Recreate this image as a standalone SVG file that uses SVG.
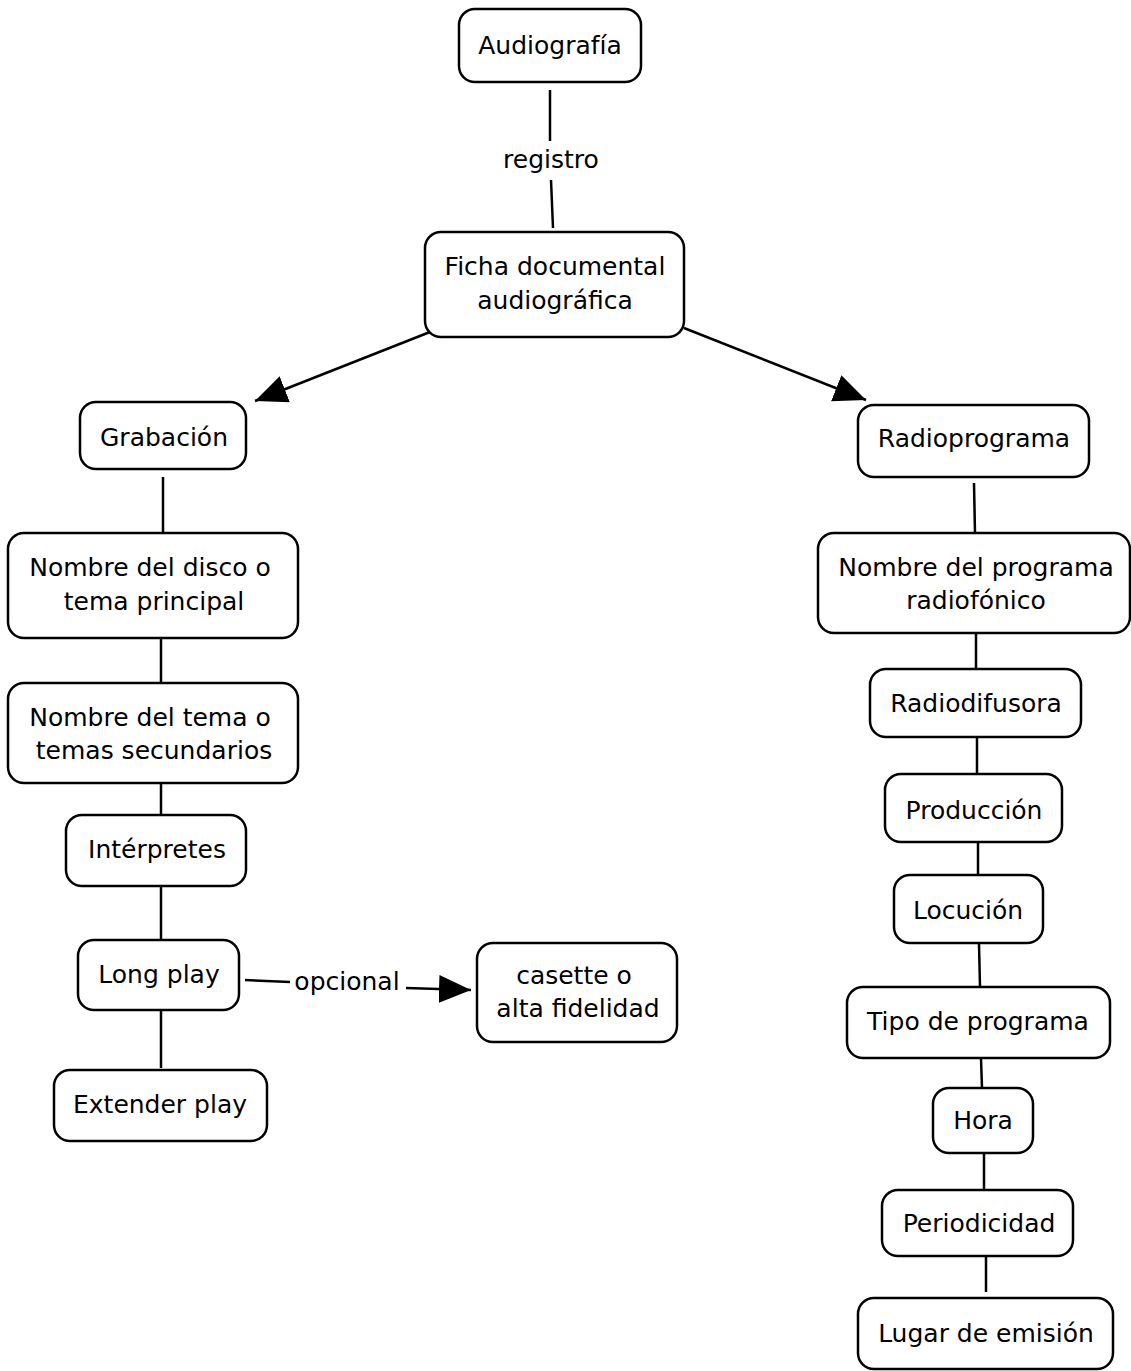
<svg xmlns="http://www.w3.org/2000/svg" width="1131" height="1371" viewBox="0 0 1131 1371">
<style>
.n rect{fill:#fff;stroke:#000;stroke-width:2.5}
text{font-family:"DejaVu Sans",Verdana,sans-serif;font-size:25px;fill:#000;text-anchor:middle}
#connectors line{stroke:#000;stroke-width:2.5}
</style>
<defs>
<marker id="ah" markerUnits="userSpaceOnUse" markerWidth="34" markerHeight="30" refX="32" refY="14" orient="auto">
<path d="M0,0 L32,14 L0,28 Z" fill="#000"/>
</marker>
</defs>
<rect width="1131" height="1371" fill="#fff"/>
<g id="connectors">
<line x1="550" y1="90" x2="550" y2="141"/>
<text x="551" y="168">registro</text>
<line x1="551" y1="180" x2="553" y2="228"/>
<line x1="430" y1="332" x2="255" y2="401" marker-end="url(#ah)"/>
<line x1="684" y1="328" x2="866" y2="400" marker-end="url(#ah)"/>
<line x1="163" y1="477" x2="163" y2="533"/>
<line x1="161" y1="639" x2="161" y2="683"/>
<line x1="161" y1="784" x2="161" y2="815"/>
<line x1="161" y1="887" x2="161" y2="940"/>
<line x1="161" y1="1011" x2="161" y2="1068"/>
<line x1="245" y1="980" x2="290" y2="982"/>
<text x="347" y="990">opcional</text>
<line x1="406" y1="988" x2="471" y2="990" marker-end="url(#ah)"/>
<line x1="974" y1="483" x2="975" y2="533"/>
<line x1="976" y1="634" x2="976" y2="669"/>
<line x1="977" y1="738" x2="977" y2="774"/>
<line x1="978" y1="843" x2="978" y2="875"/>
<line x1="979" y1="944" x2="980" y2="987"/>
<line x1="981" y1="1059" x2="982" y2="1088"/>
<line x1="984" y1="1154" x2="984" y2="1190"/>
<line x1="986" y1="1257" x2="986" y2="1292"/>
</g>
<g id="audiografia" class="n"><rect x="459" y="9" width="182" height="73" rx="16"/><text x="550" y="54">Audiografía</text></g>
<g id="ficha" class="n"><rect x="425" y="232" width="259" height="105" rx="16"/><text x="555" y="275">Ficha documental</text><text x="555" y="309">audiográfica</text></g>
<g id="grabacion" class="n"><rect x="80" y="402" width="166" height="67" rx="16"/><text x="164" y="446">Grabación</text></g>
<g id="nombre-disco" class="n"><rect x="8" y="533" width="290" height="105" rx="16"/><text x="150" y="576">Nombre del disco o</text><text x="154" y="610">tema principal</text></g>
<g id="nombre-tema" class="n"><rect x="8" y="683" width="290" height="100" rx="16"/><text x="150" y="726">Nombre del tema o</text><text x="154" y="759">temas secundarios</text></g>
<g id="interpretes" class="n"><rect x="66" y="815" width="180" height="71" rx="16"/><text x="157" y="858">Intérpretes</text></g>
<g id="long-play" class="n"><rect x="78" y="940" width="161" height="70" rx="16"/><text x="159" y="983">Long play</text></g>
<g id="extender-play" class="n"><rect x="54" y="1070" width="213" height="71" rx="16"/><text x="160" y="1113">Extender play</text></g>
<g id="casette" class="n"><rect x="477" y="943" width="200" height="99" rx="16"/><text x="574" y="984">casette o</text><text x="578" y="1017">alta fidelidad</text></g>
<g id="radioprograma" class="n"><rect x="858" y="405" width="231" height="72" rx="16"/><text x="974" y="447">Radioprograma</text></g>
<g id="nombre-programa" class="n"><rect x="818" y="533" width="312" height="100" rx="16"/><text x="976" y="576">Nombre del programa</text><text x="976" y="609">radiofónico</text></g>
<g id="radiodifusora" class="n"><rect x="870" y="669" width="211" height="68" rx="16"/><text x="976" y="712">Radiodifusora</text></g>
<g id="produccion" class="n"><rect x="885" y="774" width="177" height="68" rx="16"/><text x="974" y="819">Producción</text></g>
<g id="locucion" class="n"><rect x="894" y="875" width="149" height="68" rx="16"/><text x="968" y="919">Locución</text></g>
<g id="tipo-programa" class="n"><rect x="847" y="987" width="263" height="71" rx="16"/><text x="978" y="1030">Tipo de programa</text></g>
<g id="hora" class="n"><rect x="933" y="1088" width="100" height="65" rx="16"/><text x="983" y="1129">Hora</text></g>
<g id="periodicidad" class="n"><rect x="882" y="1190" width="191" height="66" rx="16"/><text x="979" y="1232">Periodicidad</text></g>
<g id="lugar-emision" class="n"><rect x="858" y="1298" width="255" height="71" rx="16"/><text x="986" y="1342">Lugar de emisión</text></g>
</svg>
